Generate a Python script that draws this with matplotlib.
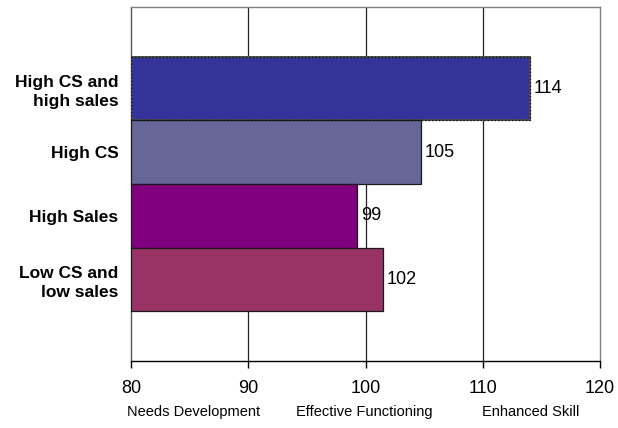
import matplotlib
matplotlib.use("Agg")
import matplotlib.pyplot as plt

# Scores per customer-service / sales group
categories = ["High CS and\nhigh sales", "High CS", "High Sales", "Low CS and\nlow sales"]
scores = [114.0, 104.7, 99.3, 101.5]
bar_colors = ["#333399", "#666699", "#800080", "#993366"]

x_ticks = [80, 90, 100, 110, 120]
bands = ["Needs Development", "Effective Functioning", "Enhanced Skill"]
band_centers = [85.3, 99.9, 114.1]

plt.rcParams["font.family"] = ["Liberation Sans", "DejaVu Sans"]

fig = plt.figure(figsize=(6.18, 4.28), dpi=100)
ax = fig.add_axes([131 / 618, (428 - 361) / 428, (600 - 131) / 618, (361 - 7) / 428])

ypos = list(range(len(categories)))
for i, (y, v, c) in enumerate(zip(ypos, scores, bar_colors)):
    if i == 0:
        ax.barh(y, v - 80, left=80, height=1.0, color=c, edgecolor="#505050",
                linewidth=1.4, zorder=3)
        ax.barh(y, v - 80, left=80, height=1.0, color="none", edgecolor="#111111",
                linewidth=1.0, linestyle=(0, (1, 1.5)), zorder=4)
    else:
        ax.barh(y, v - 80, left=80, height=1.0, color=c, edgecolor="#1a1a1a",
                linewidth=0.9, zorder=3)
    ax.text(v + 0.3, y, f"{v:.0f}", va="center", ha="left", fontsize=13, zorder=5)

ax.set_xlim(80, 120)
ax.set_ylim(4.28, -1.28)
ax.set_yticks(ypos)
ax.set_yticklabels(categories, fontsize=12.5, fontweight="bold", ha="right",
                   multialignment="right", linespacing=1.35)
ax.tick_params(axis="y", length=0, pad=9)
ax.set_xticks(x_ticks)
ax.set_xticklabels([str(t) for t in x_ticks], fontsize=13)
ax.tick_params(axis="x", length=5, width=1, pad=9, direction="out", colors="black")

for t in x_ticks[1:-1]:
    ax.axvline(t, color="#222222", linewidth=0.9, zorder=1)

for side in ("top", "right"):
    ax.spines[side].set_color("#808080")
    ax.spines[side].set_linewidth(1.0)
ax.spines["left"].set_color("#555555")
ax.spines["left"].set_linewidth(1.0)
ax.spines["bottom"].set_color("black")
ax.spines["bottom"].set_linewidth(1.0)

for name, xc in zip(bands, band_centers):
    ax.text(xc, -0.145, name, transform=ax.get_xaxis_transform(), ha="center",
            va="center", fontsize=10.5)

fig.savefig("out.png", dpi=100)
